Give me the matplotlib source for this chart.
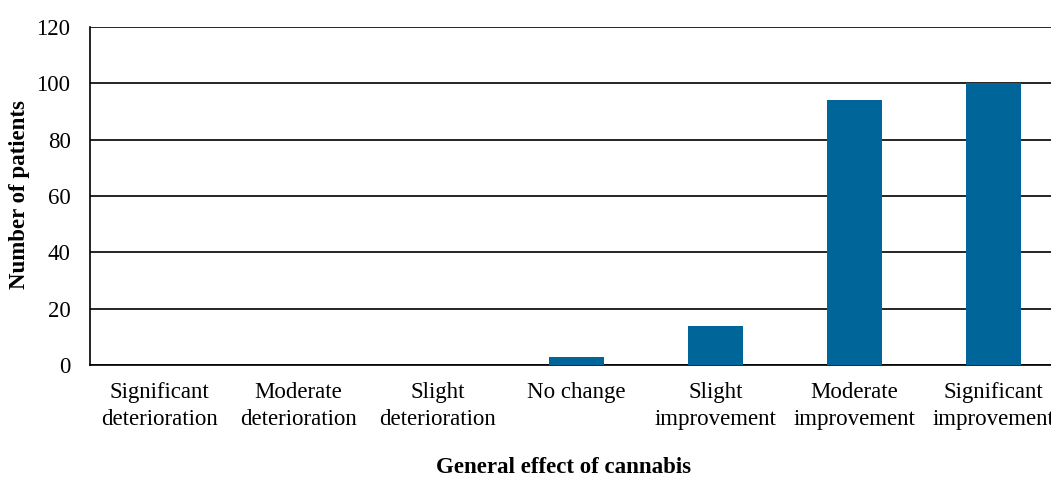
import matplotlib.pyplot as plt
import numpy as np

categories = ['Significant\ndeterioration', 'Moderate\ndeterioration', 'Slight\ndeterioration',
              'No change', 'Slight\nimprovement', 'Moderate\nimprovement', 'Significant\nimprovement']
patients = [0, 0, 0, 3, 14, 94, 100]

plt.rcParams['font.family'] = ['Liberation Serif', 'DejaVu Serif']

fig = plt.figure(figsize=(10.51, 4.78), dpi=100)
ax = fig.add_axes([0.0856, 0.2364, 0.926, 0.7071])

x = np.arange(len(categories))
ax.bar(x, patients, width=0.4, color='#006699', zorder=3)

ax.set_xlim(-0.5, len(categories) - 0.5)
ax.set_ylim(0, 120)
ax.set_yticks(np.arange(0, 121, 20))
ax.yaxis.grid(True, color='black', linewidth=1.2, zorder=0)
ax.set_axisbelow(True)

ax.set_xticks(x)
ax.set_xticklabels(categories, fontsize=16.5, linespacing=1.4)
ax.tick_params(axis='y', labelsize=16.5, length=0, pad=14)
ax.tick_params(axis='x', length=0, pad=12)

for s in ['top', 'right']:
    ax.spines[s].set_visible(False)
ax.spines['left'].set_linewidth(1.2)
ax.spines['bottom'].set_linewidth(1.2)

fig.text(0.019, 0.592, 'Number of patients', fontsize=16.5, fontweight='bold',
         rotation=90, ha='center', va='center')
fig.text(0.536, 0.022, 'General effect of cannabis', fontsize=16.5, fontweight='bold',
         ha='center', va='center')

fig.savefig('out.png', dpi=100)
